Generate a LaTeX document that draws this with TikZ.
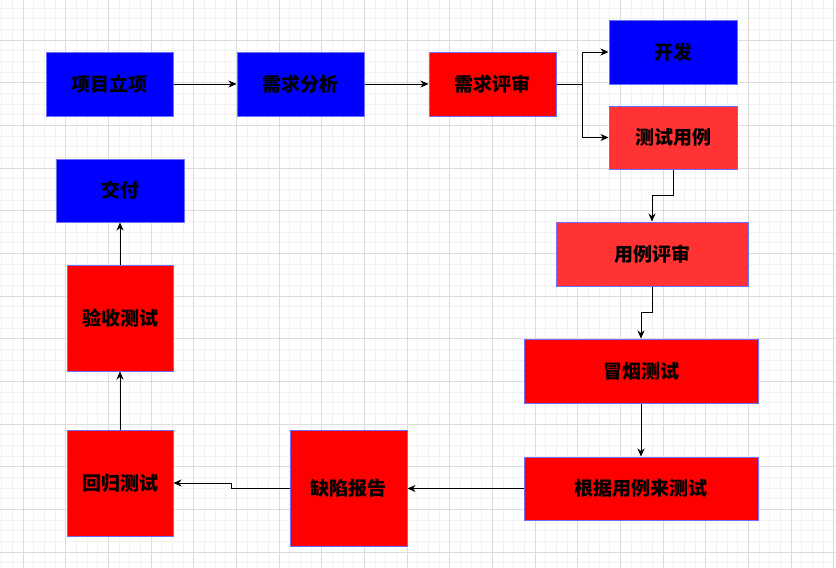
\documentclass[tikz,border=0pt]{standalone}
\usepackage{fontspec}
\newfontfamily\cjk{Noto Sans CJK SC}
\usetikzlibrary{arrows.meta,calc}
\definecolor{gridminor}{RGB}{242,242,242}
\definecolor{gridmajor}{RGB}{220,220,220}
\definecolor{bblue}{RGB}{0,0,255}
\definecolor{bred}{RGB}{255,0,0}
\definecolor{lred}{RGB}{255,51,51}
\definecolor{edgeblue}{RGB}{110,110,255}
\tikzset{
  box/.style={draw=edgeblue, line width=1pt, inner sep=0pt, font=\cjk\bfseries\fontsize{19}{21}\selectfont, text=black},
  bluebox/.style={box, fill=bblue},
  redbox/.style={box, fill=bred},
  lredbox/.style={box, fill=lred},
  arr/.style={draw=black, line width=0.9pt, -{Stealth[length=8pt,width=7pt,inset=2.5pt]}},
}
\begin{document}
\begin{tikzpicture}[x=1pt,y=-1pt]
\fill[white] (0,0) rectangle (836,568);
\useasboundingbox (0,0) rectangle (836,568);
\foreach \i in {0,...,79} {
  \draw[gridminor, line width=0.6pt] ({1.667+\i*10.667},0) -- ++(0,568);
}
\foreach \i in {0,...,54} {
  \draw[gridminor, line width=0.6pt] (0,{8+\i*10.667}) -- ++(836,0);
}
\foreach \i in {0,...,19} {
  \draw[gridmajor, line width=0.8pt] ({23+\i*42.667},0) -- ++(0,568);
}
\foreach \i in {0,...,13} {
  \draw[gridmajor, line width=0.8pt] (0,{40+\i*42.667}) -- ++(836,0);
}
\node[bluebox, minimum width=127pt, minimum height=64pt] (a) at (109.5,84) {项目立项};
\node[bluebox, minimum width=127pt, minimum height=64pt] (b) at (300.5,84) {需求分析};
\node[redbox, minimum width=127pt, minimum height=64pt] (c) at (492.5,84) {需求评审};
\node[bluebox, minimum width=128pt, minimum height=64pt] (d) at (673,52) {开发};
\node[lredbox, minimum width=128pt, minimum height=63pt] (e) at (673,137.5) {测试用例};
\node[lredbox, minimum width=192pt, minimum height=64pt] (f) at (652,254) {用例评审};
\node[redbox, minimum width=234pt, minimum height=64pt] (g) at (641,371) {冒烟测试};
\node[redbox, minimum width=234pt, minimum height=63pt] (h) at (641,488.5) {根据用例来测试};
\node[redbox, minimum width=117pt, minimum height=116pt] (i) at (348.5,488) {缺陷报告};
\node[redbox, minimum width=106pt, minimum height=106pt] (j) at (120,483) {回归测试};
\node[redbox, minimum width=106pt, minimum height=106pt] (k) at (120,318) {验收测试};
\node[bluebox, minimum width=128pt, minimum height=63pt] (l) at (120,190.5) {交付};
\coordinate (cj) at ($(c.east)+(26,0)$);
\draw[arr] (a) -- (b);
\draw[arr] (b) -- (c);
\draw[arr] (c.east) -- (cj) |- (d.west);
\draw[arr] (c.east) -- (cj) |- (e.west);
\draw[arr] (e.south) |- ($(e.south)!0.5!(f.north)$) -| (f.north);
\draw[arr] (f.south) |- ($(f.south)!0.5!(g.north)$) -| (g.north);
\draw[arr] (g.south) -- (g.south |- h.north);
\draw[arr] (h.west) -- (h.west -| i.east);
\draw[arr] (i.west) -| ($(i.west)!0.5!(j.east)$) |- (j.east);
\draw[arr] (j.north) -- (k.south);
\draw[arr] (k.north) -- (l.south);
\end{tikzpicture}
\end{document}
